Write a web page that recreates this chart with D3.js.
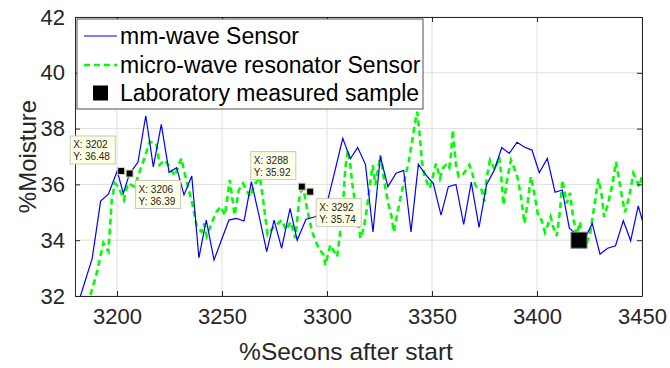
<!DOCTYPE html>
<html>
<head>
<meta charset="utf-8">
<script src="https://cdn.jsdelivr.net/npm/d3@7"></script>
<style>
  body { margin: 0; background: #fff; }
  svg text { font-family: "Liberation Sans", Arial, sans-serif; }
</style>
</head>
<body>
<div id="chart"></div>
<script>
// mm-wave sensor (blue, solid)
let blueT = [3182.6, 3188.2, 3192.2, 3195.9, 3200.1, 3203.0, 3205.9, 3210.0, 3213.7, 3217.3,
  3221.1, 3224.8, 3228.4, 3231.9, 3235.6, 3239.0, 3242.5, 3246.2, 3249.7, 3253.3,
  3256.8, 3260.5, 3264.0, 3267.7, 3271.3, 3274.8, 3278.4, 3282.4, 3285.8, 3290.0,
  3294.4, 3299.2, 3303.4, 3307.5, 3311.1, 3314.6, 3318.3, 3321.9, 3325.4, 3329.0,
  3332.9, 3336.5, 3340.0, 3343.5, 3347.1, 3350.6, 3354.3, 3357.8, 3361.4, 3365.1,
  3368.7, 3372.4, 3376.0, 3379.7, 3383.2, 3386.8, 3390.5, 3394.1, 3397.6, 3401.1,
  3404.9, 3408.6, 3412.0, 3415.4, 3418.9, 3422.1, 3426.3, 3430.0, 3433.6, 3437.4,
  3441.1, 3444.6, 3448.2, 3451.7];
let blueV = [32.0, 33.35, 35.4, 35.65, 36.48, 35.68, 36.37, 36.8, 38.46, 36.63,
  38.15, 36.43, 36.6, 35.62, 36.3, 33.37, 34.72, 33.29, 34.0, 34.72,
  34.78, 34.69, 36.1, 34.85, 33.59, 34.72, 33.71, 35.14, 34.0, 34.75,
  34.84, 35.08, 36.37, 37.65, 36.92, 37.32, 36.72, 34.3, 37.0, 35.92,
  36.4, 36.5, 34.3, 36.72, 36.34, 36.04, 34.9, 35.92, 36.0, 34.57,
  36.08, 34.46, 36.0, 36.52, 37.32, 37.11, 37.51, 37.33, 37.23, 36.42,
  36.93, 35.72, 35.8, 34.43, 34.21, 33.95, 34.6, 33.5, 33.71, 33.8,
  34.7, 33.98, 35.23, 34.3];

// micro-wave resonator sensor (green, dashed)
let greenT = [3186.0, 3190.3, 3193.5, 3195.9, 3197.5, 3199.0, 3200.8, 3203.3, 3205.2, 3208.4,
  3210.5, 3212.4, 3215.6, 3218.7, 3220.3, 3222.7, 3225.1, 3227.5, 3230.6, 3233.0,
  3236.2, 3238.0, 3240.3, 3241.5, 3242.7, 3245.0, 3247.2, 3249.4, 3251.4, 3253.7,
  3256.0, 3258.0, 3260.0, 3263.3, 3265.5, 3268.1, 3270.0, 3271.7, 3274.5, 3278.4,
  3280.5, 3282.7, 3284.9, 3287.1, 3288.7, 3290.5, 3292.9, 3296.0, 3298.4, 3299.2,
  3301.6, 3303.3, 3304.8, 3306.3, 3307.9, 3308.7, 3310.0, 3311.1, 3311.9, 3313.5,
  3315.9, 3317.5, 3319.0, 3320.6, 3321.8, 3323.0, 3325.4, 3327.8, 3329.0, 3330.6,
  3331.8, 3334.9, 3338.9, 3340.5, 3342.0, 3343.0, 3344.3, 3345.2, 3346.3, 3348.0,
  3349.0, 3351.9, 3353.8, 3355.1, 3356.7, 3358.2, 3359.0, 3359.9, 3361.4, 3362.7,
  3364.6, 3367.8, 3369.4, 3370.6, 3371.8, 3373.7, 3374.9, 3376.0, 3377.6, 3380.0,
  3382.0, 3382.8, 3384.0, 3385.6, 3387.6, 3389.2, 3390.8, 3392.4, 3394.0, 3395.6,
  3397.1, 3399.0, 3400.6, 3402.2, 3403.8, 3406.5, 3407.6, 3409.4, 3411.0, 3412.1,
  3414.1, 3415.7, 3417.3, 3418.9, 3420.5, 3422.0, 3422.9, 3425.2, 3427.6, 3429.2,
  3430.8, 3431.9, 3433.8, 3435.9, 3437.6, 3440.3, 3441.9, 3444.0, 3445.9, 3448.7,
  3450.1];
let greenV = [31.7, 32.8, 33.9, 33.6, 35.44, 36.04, 35.9, 35.44, 36.04, 35.92,
  36.4, 36.8, 37.53, 37.47, 36.7, 36.87, 36.63, 36.3, 36.93, 36.16,
  35.2, 34.48, 34.3, 34.6, 34.15, 34.6, 35.0, 35.2, 34.9, 36.16,
  34.9, 35.8, 36.04, 35.56, 36.0, 36.25, 35.2, 34.2, 34.45, 34.72,
  34.36, 34.66, 34.07, 35.68, 35.86, 35.14, 34.3, 33.71, 33.47, 33.11,
  33.83, 33.6, 33.41, 34.3, 35.62, 36.58, 37.23, 36.7, 36.1, 35.26,
  34.07, 34.43, 35.14, 36.1, 36.7, 35.98, 37.05, 35.86, 35.38, 34.9,
  34.3, 35.5, 36.81, 37.53, 38.25, 38.6, 37.65, 36.8, 36.34, 36.0,
  35.86, 36.75, 36.22, 36.58, 36.7, 36.58, 37.05, 37.95, 36.7, 36.28,
  36.34, 36.7, 36.34, 35.98, 35.86, 35.8, 35.38, 36.22, 36.87, 36.52,
  36.99, 36.46, 35.26, 36.1, 36.87, 36.58, 36.22, 35.56, 34.6, 35.38,
  36.28, 35.56, 34.84, 34.72, 34.28, 34.84, 34.5, 34.15, 35.1, 36.16,
  35.32, 35.7, 34.78, 34.19, 34.66, 33.77, 33.77, 34.2, 35.38, 36.2,
  35.62, 34.84, 35.3, 36.0, 36.81, 35.62, 35.0, 35.6, 36.4, 35.92,
  36.34];

// laboratory sample and data tips
let labX = [3420];
let labY = [34.0];
let tipX = [3202, 3206, 3288, 3292];
let tipY = [36.48, 36.39, 35.92, 35.74];
let tipSide = ['ul', 'dr', 'ul', 'dr'];

let xTicks = [3200, 3250, 3300, 3350, 3400, 3450];
let yTicks = [32, 34, 36, 38, 40, 42];
let legendLabels = ['mm-wave Sensor', 'micro-wave resonator Sensor', 'Laboratory measured sample'];

const W = 670, H = 368;
const m = {left: 75, right: 28, top: 17, bottom: 72};
const iw = W - m.left - m.right, ih = H - m.top - m.bottom;
const axisCol = '#262626';

let svg = d3.select('#chart').append('svg')
  .attr('width', W).attr('height', H);

let x = d3.scaleLinear().domain([3180, 3450]).range([0, iw]);
let y = d3.scaleLinear().domain([32, 42]).range([ih, 0]);

let g = svg.append('g').attr('transform', `translate(${m.left},${m.top})`);

g.append('clipPath').attr('id', 'clip')
  .append('rect').attr('width', iw).attr('height', ih);

// grid
let grid = g.append('g').attr('class', 'grid');
grid.selectAll('.gx').data(xTicks).enter().append('line')
  .attr('x1', d => x(d)).attr('x2', d => x(d))
  .attr('y1', 0).attr('y2', ih)
  .attr('stroke', '#dfdfdf').attr('stroke-width', 1);
grid.selectAll('.gy').data(yTicks).enter().append('line')
  .attr('y1', d => y(d)).attr('y2', d => y(d))
  .attr('x1', 0).attr('x2', iw)
  .attr('stroke', '#dfdfdf').attr('stroke-width', 1);

// series
let plot = g.append('g').attr('clip-path', 'url(#clip)');
let line = d3.line().x(d => x(d[0])).y(d => y(d[1]));

plot.append('path')
  .datum(greenT.map((t, i) => [t, greenV[i]]))
  .attr('d', line)
  .attr('fill', 'none')
  .attr('stroke', '#00ff00')
  .attr('stroke-width', 2.6)
  .attr('stroke-dasharray', '6,4');

plot.append('path')
  .datum(blueT.map((t, i) => [t, blueV[i]]))
  .attr('d', line)
  .attr('fill', 'none')
  .attr('stroke', '#0000ff')
  .attr('stroke-width', 1.2);

// lab sample
plot.selectAll('.lab').data(labX).enter().append('rect')
  .attr('x', d => x(d) - 8).attr('y', (d, i) => y(labY[i]) - 8)
  .attr('width', 16).attr('height', 16)
  .attr('fill', '#000').attr('stroke', '#777').attr('stroke-width', 1);

// axes (ticks inward, box on)
let fmt = d3.format('d');
g.append('g').attr('transform', `translate(0,${ih})`)
  .call(d3.axisBottom(x).tickValues(xTicks).tickFormat(fmt).tickSize(-5).tickSizeOuter(0).tickPadding(12));
g.append('g')
  .call(d3.axisLeft(y).tickValues(yTicks).tickFormat(fmt).tickSize(-5).tickSizeOuter(0).tickPadding(10));
g.append('g')
  .call(d3.axisTop(x).tickValues(xTicks).tickFormat('').tickSize(-5).tickSizeOuter(0));
g.append('g').attr('transform', `translate(${iw},0)`)
  .call(d3.axisRight(y).tickValues(yTicks).tickFormat('').tickSize(-5).tickSizeOuter(0));

g.selectAll('.domain').attr('stroke', axisCol);
g.selectAll('.tick line').attr('stroke', axisCol);
g.selectAll('.tick text')
  .attr('fill', axisCol)
  .style('font-size', '22px');

// axis titles
svg.append('text')
  .attr('x', 346).attr('y', 360)
  .attr('text-anchor', 'middle')
  .attr('fill', axisCol)
  .style('font-size', '24.5px')
  .text('%Secons after start');
svg.append('text')
  .attr('transform', `translate(36,${m.top + ih / 2}) rotate(-90)`)
  .attr('text-anchor', 'middle')
  .attr('fill', axisCol)
  .style('font-size', '24px')
  .text('%Moisture');

// data tips
let tips = g.append('g');
tipX.forEach((tx, i) => {
  let px = x(tx), py = y(tipY[i]);
  let bw = 45, bh = 28;
  let bx = tipSide[i] === 'ul' ? px - bw - 6 : px + 6;
  let by = tipSide[i] === 'ul' ? py - bh - 7 : py + 7;
  tips.append('rect')
    .attr('x', bx).attr('y', by).attr('width', bw).attr('height', bh)
    .attr('fill', '#ffffe6').attr('stroke', '#c8c8c0').attr('stroke-width', 1);
  tips.append('text').attr('x', bx + 3).attr('y', by + 12)
    .style('font-size', '10px').attr('fill', '#222').text('X: ' + tx);
  tips.append('text').attr('x', bx + 3).attr('y', by + 24)
    .style('font-size', '10px').attr('fill', '#222').text('Y: ' + tipY[i].toFixed(2));
  tips.append('rect')
    .attr('x', px - 3.5).attr('y', py - 3.5).attr('width', 7).attr('height', 7)
    .attr('fill', '#000').attr('stroke', '#d8d4b8').attr('stroke-width', 1);
});

// legend
let lg = g.append('g').attr('transform', 'translate(2,2)');
lg.append('rect')
  .attr('width', 346).attr('height', 90)
  .attr('fill', '#fff').attr('stroke', axisCol).attr('stroke-width', 0.8);
let rowY = [17, 46, 74];
lg.append('line').attr('x1', 7).attr('x2', 40).attr('y1', rowY[0]).attr('y2', rowY[0])
  .attr('stroke', '#0000ff').attr('stroke-width', 1.2);
lg.append('line').attr('x1', 7).attr('x2', 40).attr('y1', rowY[1]).attr('y2', rowY[1])
  .attr('stroke', '#00ff00').attr('stroke-width', 2.6).attr('stroke-dasharray', '6,4');
lg.append('rect').attr('x', 16).attr('y', rowY[2] - 7.5).attr('width', 15).attr('height', 15)
  .attr('fill', '#000');
lg.selectAll('.lt').data(legendLabels).enter().append('text')
  .attr('x', 43).attr('y', (d, i) => rowY[i] + 8)
  .attr('fill', '#000')
  .style('font-size', '23px')
  .text(d => d);
</script>
</body>
</html>
